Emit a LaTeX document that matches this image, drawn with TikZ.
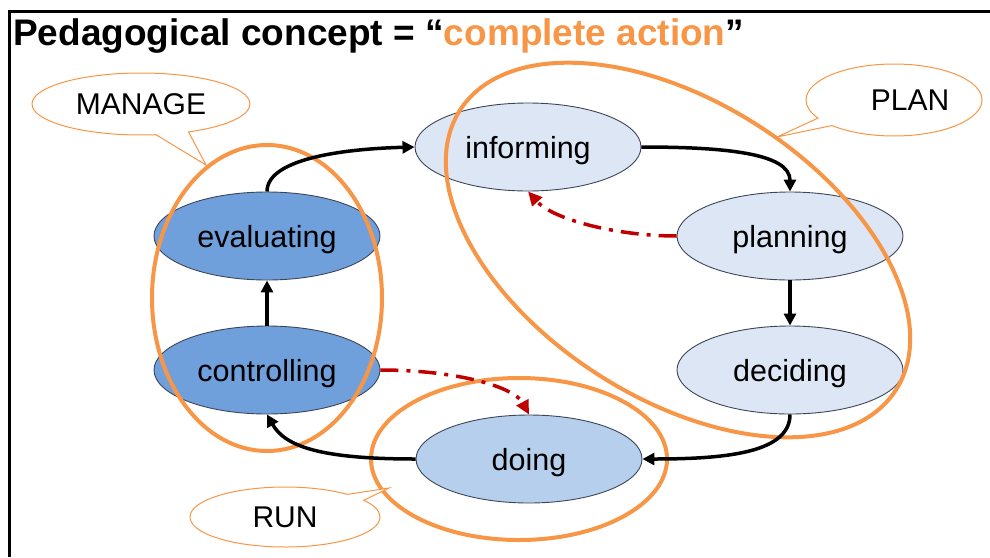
\documentclass[tikz,border=0pt]{standalone}
\usepackage{fontspec}
\setmainfont{Liberation Sans}
\usetikzlibrary{shapes.geometric,shapes.callouts,arrows.meta}
\definecolor{orng}{HTML}{F79646}
\definecolor{redd}{HTML}{C00000}
\definecolor{lightfill}{HTML}{DCE6F4}
\definecolor{midfill}{HTML}{B6CFEC}
\definecolor{darkfill}{HTML}{6FA0DC}
\definecolor{edge}{HTML}{3C4658}
\begin{document}
\begin{tikzpicture}[x=1pt,y=-1pt,
  stage/.style={ellipse, draw=edge, line width=0.9pt, minimum width=226pt, minimum height=88pt, inner sep=0pt,
    text height=22pt, text depth=0pt, font=\fontsize{30.5}{36}\selectfont},
  light/.style={stage, fill=lightfill},
  mid/.style={stage, fill=midfill},
  dark/.style={stage, fill=darkfill},
  ring/.style={draw=orng, line width=4pt},
  bubble/.style={ellipse callout, draw=orng, line width=1pt, fill=white, inner sep=0pt,
    font=\fontsize{30}{36}\selectfont},
  flow/.style={line width=3.5pt, -{Triangle[length=12pt,width=12pt]}},
  back/.style={line width=3.5pt, redd, dash pattern=on 18pt off 8pt on 4pt off 8pt, -{Triangle[length=14pt,width=13pt]}}
]
\useasboundingbox (0,0) rectangle (990,557);
% frame
\draw[line width=3pt] (9,557) -- (9,11) -- (990,11);
% title
\node[anchor=base west, inner sep=0pt, font=\fontsize{37}{42}\selectfont\bfseries] (title) at (13,45)
  {Pedagogical concept = “\textcolor{orng}{complete action}”};
% stages
\node[light] (inf) at (528,147) {informing};
\node[light] (plan) at (790,236) {planning};
\node[light] (dec) at (790,370) {deciding};
\node[mid] (doing) at (529,459) {doing};
\node[dark] (ctrl) at (267,370) {controlling};
\node[dark] (ev) at (267,236) {evaluating};
% group rings
\draw[ring] (267,298) ellipse [x radius=115, y radius=153];
\draw[ring] (519,459) ellipse [x radius=148, y radius=81];
\draw[ring, rotate around={-32.7:(678,250)}] (678,250) ellipse [x radius=259, y radius=148];
% flow arrows
\draw[flow] (ev.north) .. controls +(0,-32) and +(-75,2) .. (inf.west);
\draw[flow] (inf.east) .. controls +(85,0) and +(0,-38) .. (plan.north);
\draw[flow] (plan.south) -- (dec.north);
\draw[flow] (dec.south) .. controls +(0,38) and +(85,0) .. (doing.east);
\draw[flow] (doing.west) .. controls +(-95,0) and +(18,32) .. (ctrl.south);
\draw[flow] (ctrl.north) -- (ev.south);
% feedback arrows
\draw[back] (plan.west) .. controls +(-60,0) and +(25,28) .. (inf.south);
\draw[back] (ctrl.east) .. controls +(75,0) and +(-15,-28) .. (doing.north);
% callouts
\node[bubble, minimum width=218pt, minimum height=62pt, callout pointer arc=18,
  callout absolute pointer={(206,165)}] (manage) at (141,104) {MANAGE};
\node[bubble, minimum width=176pt, minimum height=72pt,
  callout absolute pointer={(777,137)}] (planb) at (894,100) {\hspace*{32pt}PLAN};
\node[bubble, minimum width=190pt, minimum height=60pt,
  callout absolute pointer={(389,488)}] (run) at (285,517) {RUN};
\end{tikzpicture}
\end{document}
